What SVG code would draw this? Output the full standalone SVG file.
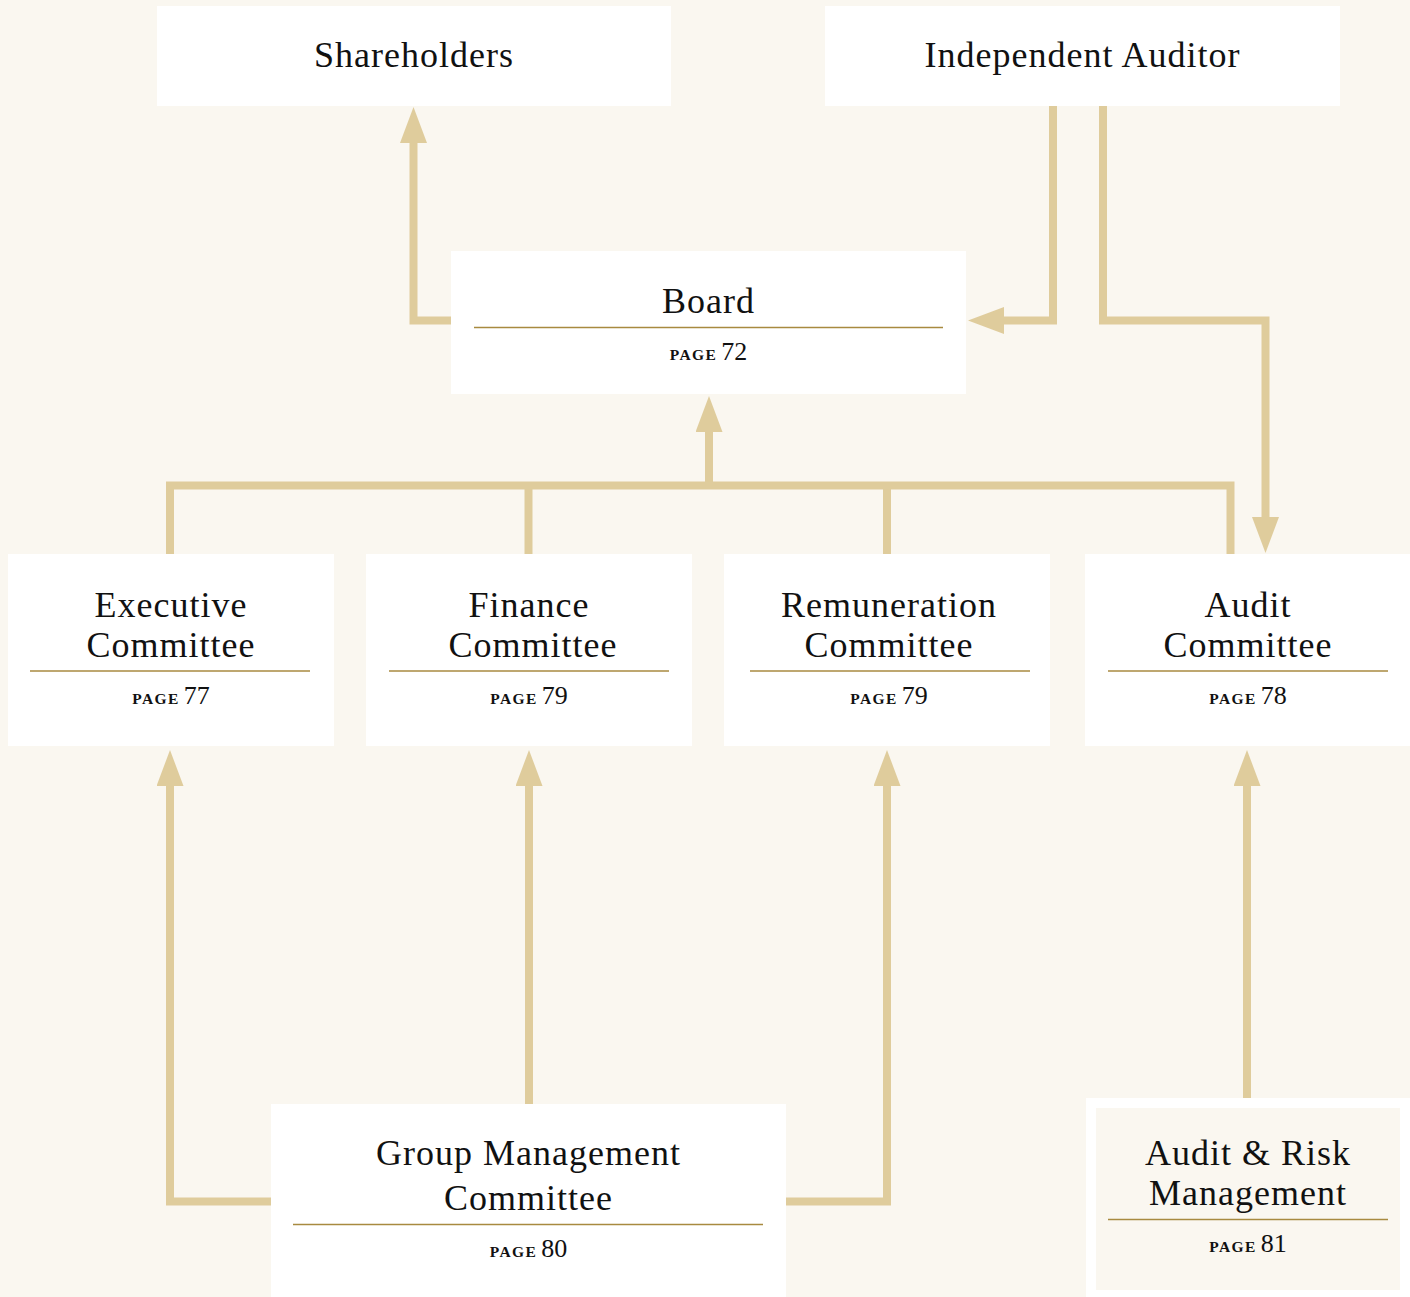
<svg xmlns="http://www.w3.org/2000/svg" width="1410" height="1297" viewBox="0 0 1410 1297">
<style>
.box{fill:#ffffff}
.inner{fill:#faf7f0}
.t{font-family:"Liberation Serif","Times New Roman",serif;font-size:36px;letter-spacing:1px;fill:#111;text-anchor:middle}
.p{font-family:"Liberation Serif","Times New Roman",serif;fill:#111;text-anchor:middle}
.pg{font-size:15.5px;letter-spacing:1.4px;font-weight:bold}
.pn{font-size:26px}
.rule{stroke:#a88a40;stroke-width:1.6}
.c{fill:none;stroke:#dfcc9c;stroke-width:8;stroke-linejoin:miter;stroke-linecap:butt}
</style>
<defs>
<marker id="ah" viewBox="0 0 36 27" refX="0" refY="13.5" markerWidth="36" markerHeight="27" markerUnits="userSpaceOnUse" orient="auto">
<path d="M0,0 L36,13.5 L0,27 z" fill="#dfcc9c"/>
</marker>
</defs>
<rect width="1410" height="1297" fill="#faf7f0"/>
<g id="connectors">
<path class="c" d="M451,320.5 H413.5 V143" marker-end="url(#ah)"/>
<path class="c" d="M1053,106 V320.5 H1004" marker-end="url(#ah)"/>
<path class="c" d="M1103,106 V320.5 H1265.5 V517" marker-end="url(#ah)"/>
<path class="c" d="M170,554 V485.5 H1230.5 V554"/>
<path class="c" d="M528.5,554 V485.5"/>
<path class="c" d="M887,554 V485.5"/>
<path class="c" d="M709,485.5 V432" marker-end="url(#ah)"/>
<path class="c" d="M271,1201.5 H170 V786" marker-end="url(#ah)"/>
<path class="c" d="M529,1104 V786" marker-end="url(#ah)"/>
<path class="c" d="M786,1201.5 H887 V786" marker-end="url(#ah)"/>
<path class="c" d="M1247,1098 V786" marker-end="url(#ah)"/>
</g>
<g id="shareholders">
<rect class="box" x="157" y="6" width="514" height="100"/>
<text class="t" x="414" y="67">Shareholders</text>
</g>
<g id="auditor">
<rect class="box" x="825" y="6" width="515" height="100"/>
<text class="t" x="1082.5" y="67">Independent Auditor</text>
</g>
<g id="board">
<rect class="box" x="451" y="251" width="515" height="143"/>
<text class="t" x="708.5" y="313">Board</text>
<line class="rule" x1="474" y1="327.5" x2="943" y2="327.5"/>
<text class="p" x="708.5" y="360"><tspan class="pg">PAGE</tspan> <tspan class="pn">72</tspan></text>
</g>
<g id="executive">
<rect class="box" x="8" y="554" width="326" height="192"/>
<text class="t" x="171" y="617">Executive</text>
<text class="t" x="171" y="657">Committee</text>
<line class="rule" x1="30" y1="671" x2="310" y2="671"/>
<text class="p" x="171" y="704"><tspan class="pg">PAGE</tspan> <tspan class="pn">77</tspan></text>
</g>
<g id="finance">
<rect class="box" x="366" y="554" width="326" height="192"/>
<text class="t" x="529" y="617">Finance</text>
<text class="t" x="533" y="657">Committee</text>
<line class="rule" x1="389" y1="671" x2="669" y2="671"/>
<text class="p" x="529" y="704"><tspan class="pg">PAGE</tspan> <tspan class="pn">79</tspan></text>
</g>
<g id="remuneration">
<rect class="box" x="724" y="554" width="326" height="192"/>
<text class="t" x="889" y="617">Remuneration</text>
<text class="t" x="889" y="657">Committee</text>
<line class="rule" x1="750" y1="671" x2="1030" y2="671"/>
<text class="p" x="889" y="704"><tspan class="pg">PAGE</tspan> <tspan class="pn">79</tspan></text>
</g>
<g id="audit">
<rect class="box" x="1085" y="554" width="325" height="192"/>
<text class="t" x="1248" y="617">Audit</text>
<text class="t" x="1248" y="657">Committee</text>
<line class="rule" x1="1108" y1="671" x2="1388" y2="671"/>
<text class="p" x="1248" y="704"><tspan class="pg">PAGE</tspan> <tspan class="pn">78</tspan></text>
</g>
<g id="gmc">
<rect class="box" x="271" y="1104" width="515" height="193"/>
<text class="t" x="528.5" y="1165">Group Management</text>
<text class="t" x="528.5" y="1210">Committee</text>
<line class="rule" x1="293" y1="1224.5" x2="763" y2="1224.5"/>
<text class="p" x="528.5" y="1257"><tspan class="pg">PAGE</tspan> <tspan class="pn">80</tspan></text>
</g>
<g id="arm">
<rect class="box" x="1086" y="1098" width="324" height="199"/>
<rect class="inner" x="1096" y="1108" width="304" height="182"/>
<text class="t" x="1248" y="1165">Audit &amp; Risk</text>
<text class="t" x="1248" y="1205">Management</text>
<line class="rule" x1="1108" y1="1219.5" x2="1388" y2="1219.5"/>
<text class="p" x="1248" y="1252"><tspan class="pg">PAGE</tspan> <tspan class="pn">81</tspan></text>
</g>
</svg>
